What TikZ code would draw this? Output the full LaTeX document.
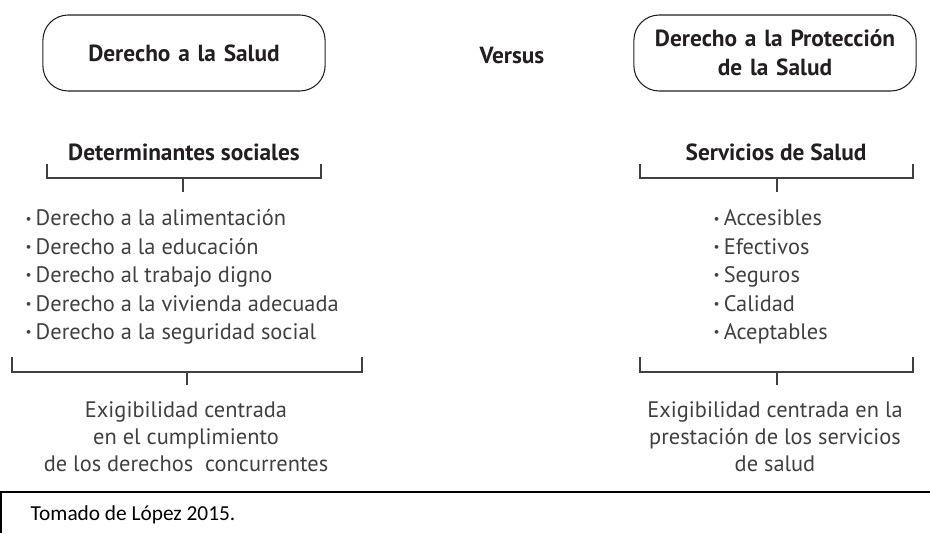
\documentclass[tikz,border=0pt]{standalone}
\usepackage{fontspec}
\setmainfont{PT Sans}
\newfontfamily\notefont{Carlito}
\usetikzlibrary{positioning}

\definecolor{inkdark}{HTML}{231F20}
\definecolor{inkgray}{HTML}{404040}

\tikzstyle{bracket} = [draw=inkgray, line width=0.8pt]
\tikzstyle{stem} = [draw=inkgray, line width=0.8pt]
\tikzstyle{bigbubble} = [
        rectangle,
        rounded corners=19pt,
        minimum width=211pt,
        minimum height=57pt,
        text width=205pt,
        align=center,
        draw=inkdark,
        line width=0.8pt,
        text=inkdark,
        font=\fontsize{17.5}{22}\selectfont\bfseries,
    ]
\tikzstyle{heading} = [
        text=inkdark,
        font=\fontsize{17.5}{22}\selectfont\bfseries,
    ]
\tikzstyle{itemlist} = [
        align=left,
        text=inkgray,
        font=\fontsize{16.8}{21.3}\selectfont,
    ]
\tikzstyle{outcome} = [
        align=center,
        text=inkgray,
        font=\fontsize{16.8}{20.3}\selectfont,
    ]
\newcommand{\itm}{\raisebox{0.25ex}{\fontsize{10}{10}\selectfont\textbullet}\hspace{3pt}}

\begin{document}
\begin{tikzpicture}[x=0.75pt, y=-0.75pt]
            \useasboundingbox (0,0) rectangle (930,533);
            % top row
            \node [bigbubble] (salud) at (184,53) {Derecho a la Salud};
            \node [heading] (versus) at (512,55) {Versus};
            \node [bigbubble] (proteccion) at (775,53) {Derecho a la Protección\\de la Salud};
            % headings
            \node [heading] (detsoc) at (184,152) {Determinantes sociales};
            \node [heading] (servicios) at (776,152) {Servicios de Salud};
            % lists
            \node [itemlist, anchor=west] (derechos) at (21,277) {\itm Derecho a la alimentación\\\itm Derecho a la educación\\\itm Derecho al trabajo digno\\\itm Derecho a la vivienda adecuada\\\itm Derecho a la seguridad social};
            \node [itemlist, anchor=west] (atributos) at (709,277) {\itm Accesibles\\\itm Efectivos\\\itm Seguros\\\itm Calidad\\\itm Aceptables};
            % outcomes
            \node [outcome] (exigleft) at (186,437) {Exigibilidad centrada\\en el cumplimiento\\de los derechos\ \ concurrentes};
            \node [outcome] (exigright) at (775,437) {Exigibilidad centrada en la\\prestación de los servicios\\de salud};
            % brackets
            \coordinate (b1l) at (47,164);
            \coordinate (b1r) at (321,164);
            \coordinate (b1m) at (183,178);
            \coordinate (b1s) at (183,192);
            \draw [bracket] (b1l) |- (b1r |- b1m) -- (b1r);
            \draw [stem] (b1m) -- (b1s);
            \coordinate (b2l) at (640,164);
            \coordinate (b2r) at (913,164);
            \coordinate (b2m) at (777,178);
            \coordinate (b2s) at (777,192);
            \draw [bracket] (b2l) |- (b2r |- b2m) -- (b2r);
            \draw [stem] (b2m) -- (b2s);
            \coordinate (b3l) at (12,357);
            \coordinate (b3r) at (362,357);
            \coordinate (b3m) at (187,372);
            \coordinate (b3s) at (187,385);
            \draw [bracket] (b3l) |- (b3r |- b3m) -- (b3r);
            \draw [stem, line width=1.6pt] (b3m) -- (b3s);
            \coordinate (b4l) at (640,357);
            \coordinate (b4r) at (913,357);
            \coordinate (b4m) at (777,372);
            \coordinate (b4s) at (777,385);
            \draw [bracket] (b4l) |- (b4r |- b4m) -- (b4r);
            \draw [stem] (b4m) -- (b4s);
            % source note
            \coordinate (notetl) at (1,492);
            \coordinate (notetr) at (930,492);
            \coordinate (notebl) at (1,533);
            \draw [line width=1.2pt] (notetr) -- (notetl) -- (notebl);
            \node [anchor=west, font=\notefont\fontsize{16}{19}\selectfont] (source) at (26,515) {Tomado de López 2015.};
        \end{tikzpicture}
\end{document}
